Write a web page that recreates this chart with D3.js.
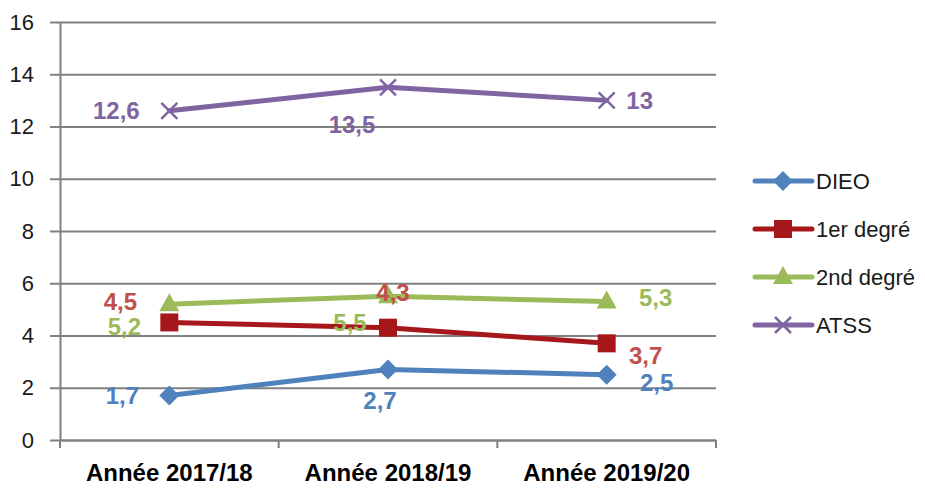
<!DOCTYPE html>
<html>
<head>
<meta charset="utf-8">
<script src="https://cdn.jsdelivr.net/npm/d3@7"></script>
<style>
  body { margin: 0; background: #fff; }
  svg text { font-family: "Liberation Sans", "Open Sans", sans-serif; }
</style>
</head>
<body>
<div id="chart"></div>
<script>
// chart data
const categories = ["Année 2017/18", "Année 2018/19", "Année 2019/20"];
const seriesNames = ["DIEO", "1er degré", "2nd degré", "ATSS"];
const dieo = [1.7, 2.7, 2.5];
const premierDegre = [4.5, 4.3, 3.7];
const secondDegre = [5.2, 5.5, 5.3];
const atss = [12.6, 13.5, 13];
const yTicks = [0, 2, 4, 6, 8, 10, 12, 14, 16];

// look of each series (line colour, label colour, marker)
const styles = [
    { line: "#4F81BD", label: "#4F81BD", marker: "diamond" },
    { line: "#A6171C", label: "#C0504D", marker: "square" },
    { line: "#9BBB59", label: "#9BBB59", marker: "triangle" },
    { line: "#8064A2", label: "#8064A2", marker: "cross" }
];
// where Excel put the data labels, relative to the point
const labelOffsets = [
    [[-47, 0], [-8, 31], [50, 8]],
    [[-49, -21], [5, -35], [39, 12]],
    [[-45, 22], [-38, 26], [49, -4]],
    [[-53, 0], [-36, 37], [33, 0]]
];

const seriesValues = [dieo, premierDegre, secondDegre, atss];

const W = 925, H = 488;
const plot = { left: 60, right: 716, top: 22, bottom: 440 };

const svg = d3.select("#chart").append("svg")
    .attr("width", W)
    .attr("height", H);

const x = d3.scaleBand().domain(categories).range([plot.left, plot.right]);
const y = d3.scaleLinear().domain([0, 16]).range([plot.bottom, plot.top]);
const cx = d => x(d) + x.bandwidth() / 2;

// gridlines
svg.append("g")
    .attr("transform", `translate(${plot.left},0)`)
    .call(d3.axisLeft(y).tickValues(yTicks).tickSize(-(plot.right - plot.left)).tickFormat(""))
    .call(g => g.select(".domain").remove())
    .call(g => g.selectAll("line").attr("stroke", "#808080").attr("stroke-width", 2));

// y axis
svg.append("g")
    .attr("transform", `translate(${plot.left},0)`)
    .call(d3.axisLeft(y).tickValues(yTicks).tickSize(10).tickPadding(16).tickSizeOuter(0))
    .call(g => g.select(".domain").attr("stroke", "#808080").attr("stroke-width", 2))
    .call(g => g.selectAll("line").attr("stroke", "#808080").attr("stroke-width", 2))
    .call(g => g.selectAll("text").attr("font-size", 22).attr("fill", "#1a1a1a"));

// x axis
const xAxis = svg.append("g")
    .attr("transform", `translate(0,${plot.bottom})`)
    .call(d3.axisBottom(x).tickSize(0).tickSizeOuter(0))
    .call(g => g.select(".domain").attr("stroke", "#808080").attr("stroke-width", 2))
    .call(g => g.selectAll("text")
        .attr("y", 33).attr("dy", "0.35em")
        .attr("font-size", 24).attr("font-weight", "bold").attr("fill", "#000"));

const bounds = categories.map(d => x(d)).concat([plot.right]);
xAxis.selectAll(".bound")
    .data(bounds)
    .join("line")
    .attr("class", "bound")
    .attr("x1", d => d).attr("x2", d => d)
    .attr("y1", 0).attr("y2", 8)
    .attr("stroke", "#808080").attr("stroke-width", 2);

// markers
function drawMarker(g, type, color, px, py) {
    if (type === "diamond") {
        g.append("path")
            .attr("d", `M${px},${py - 10}L${px + 10},${py}L${px},${py + 10}L${px - 10},${py}Z`)
            .attr("fill", color);
    } else if (type === "square") {
        g.append("rect")
            .attr("x", px - 9).attr("y", py - 9)
            .attr("width", 18).attr("height", 18)
            .attr("fill", color);
    } else if (type === "triangle") {
        g.append("path")
            .attr("d", `M${px},${py - 11}L${px + 10},${py + 7}L${px - 10},${py + 7}Z`)
            .attr("fill", color);
    } else {
        g.append("path")
            .attr("d", `M${px - 8},${py - 8}L${px + 8},${py + 8}M${px + 8},${py - 8}L${px - 8},${py + 8}`)
            .attr("stroke", color)
            .attr("stroke-width", 2.5)
            .attr("fill", "none");
    }
}

const line = d3.line()
    .x((d, i) => cx(categories[i]))
    .y(d => y(d));

seriesValues.forEach((vals, s) => {
    const g = svg.append("g").attr("class", "series");
    g.append("path")
        .datum(vals)
        .attr("d", line)
        .attr("fill", "none")
        .attr("stroke", styles[s].line)
        .attr("stroke-width", 5)
        .attr("stroke-linejoin", "round")
        .attr("stroke-linecap", "round");
    vals.forEach((v, i) => drawMarker(g, styles[s].marker, styles[s].line, cx(categories[i]), y(v)));
});

// data labels drawn after all lines
seriesValues.forEach((vals, s) => {
    svg.append("g").selectAll("text")
        .data(vals)
        .join("text")
        .attr("x", (d, i) => cx(categories[i]) + labelOffsets[s][i][0])
        .attr("y", (d, i) => y(d) + labelOffsets[s][i][1])
        .attr("dy", "0.35em")
        .attr("text-anchor", "middle")
        .attr("font-size", 24)
        .attr("font-weight", "bold")
        .attr("fill", styles[s].label)
        .text(d => String(d).replace(".", ","));
});

// legend
const legend = svg.append("g").attr("transform", "translate(755,181)");
seriesNames.forEach((name, s) => {
    const row = legend.append("g").attr("transform", `translate(0,${s * 48})`);
    row.append("line")
        .attr("x1", 0).attr("x2", 57)
        .attr("stroke", styles[s].line)
        .attr("stroke-width", 5)
        .attr("stroke-linecap", "round");
    drawMarker(row, styles[s].marker, styles[s].line, 28, 0);
    row.append("text")
        .attr("x", 61)
        .attr("dy", "0.35em")
        .attr("font-size", 22)
        .attr("fill", "#1a1a1a")
        .text(name);
});
</script>
</body>
</html>
